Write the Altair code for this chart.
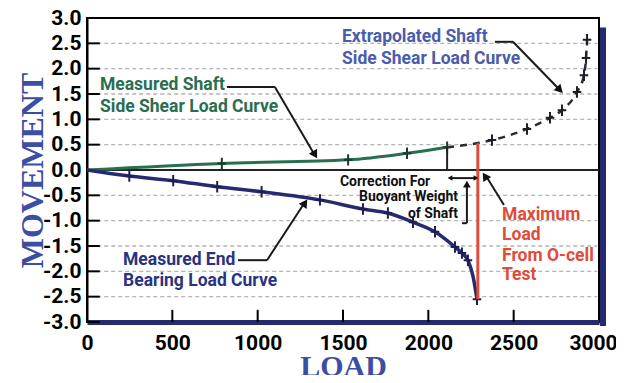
import altair as alt
import pandas as pd

# ---------------- data ----------------
shaft_load = [0, 790, 1530, 1875, 2110]
shaft_move = [0.0, 0.13, 0.20, 0.33, 0.45]
shaft_tick = [False, True, True, True, True]

end_load = [0, 248, 505, 763, 1023, 1365, 1617, 1763, 1910, 2039, 2156, 2197, 2232, 2262, 2285]
end_move = [0.0, -0.12, -0.21, -0.33, -0.43, -0.59, -0.77, -0.85, -1.03, -1.22, -1.52, -1.64, -1.78, -2.10, -2.55]
end_tick = [False, True, True, True, True, True, True, True, True, True, True, True, True, False, True]

ext_load = [2110, 2373, 2578, 2713, 2783, 2871, 2912, 2924, 2930]
ext_move = [0.45, 0.59, 0.81, 1.03, 1.18, 1.54, 1.87, 2.21, 2.57]
ext_tick = [False, True, True, True, True, True, True, True, True]

max_load = 2290
max_top, max_bottom = 0.53, -2.55
correction_load = 2110

x_ticks = [0, 500, 1000, 1500, 2000, 2500, 3000]
y_ticks = [-3.0, -2.5, -2.0, -1.5, -1.0, -0.5, 0.0, 0.5, 1.0, 1.5, 2.0, 2.5, 3.0]

# ---------------- styles ----------------
GREEN = "#2a6e50"
NAVY = "#262b70"
EXT_BLUE = "#4a5cab"
END_BLUE = "#2a3282"
RED = "#e04b3a"
TITLE_BLUE = "#3b4ea3"
SANS = "Roboto"

XS = alt.Scale(domain=[0, 3000], nice=False, zero=False)
YS = alt.Scale(domain=[-3, 3], nice=False, zero=False)

AX_X = alt.Axis(values=x_ticks, format="d", grid=False, ticks=False,
                domainColor=NAVY, domainWidth=5, labelPadding=10,
                labelFlush=False, labelOverlap=False,
                labelOffset={"condition": {"test": "datum.value == 3000", "value": -6}, "value": 0},
                titleY=53, titleBaseline="alphabetic", titleFontSize=30)
AX_Y = alt.Axis(values=y_ticks, ticks=False, grid=False,
                labelExpr="replace(format(datum.value, '.1f'), '\u2212', '-')",
                domainColor="black", domainWidth=2, labelPadding=6,
                labelOverlap=False, labelBaseline="middle",
                titleX=-45, titleY=152, titleBaseline="alphabetic", titleAlign="center")

def X(f="x"):
    return alt.X(f"{f}:Q", scale=XS, axis=AX_X, title="LOAD")

def Y(f="y"):
    return alt.Y(f"{f}:Q", scale=YS, axis=AX_Y, title="MOVEMENT")

shaft = pd.DataFrame({"x": shaft_load, "y": shaft_move, "t": shaft_tick})
end = pd.DataFrame({"x": end_load, "y": end_move, "t": end_tick})
ext = pd.DataFrame({"x": ext_load, "y": ext_move, "t": ext_tick})

PLUS = "M0,-1L0,1M-0.75,0L0.75,0"

# dashed grid lines
grid_vals = [v for v in y_ticks if v not in (-3.0, 0.0, 3.0)]
gd = pd.DataFrame({"x": [60] * len(grid_vals), "x2": [2990] * len(grid_vals), "y": grid_vals})
grid_layer = alt.Chart(gd).mark_rule(color="#b4b4b4", strokeWidth=1.4, strokeDash=[4, 3]).encode(
    x=X(), x2="x2:Q", y=Y())

xt = pd.DataFrame({"x": x_ticks[1:-1], "y": [-3.0] * 5, "y2": [-2.76] * 5})
xtick_layer = alt.Chart(xt).mark_rule(color="black", strokeWidth=2).encode(
    x=X(), y=Y(), y2="y2:Q")
yt = pd.DataFrame({"x": [0] * len(y_ticks), "x2": [75] * len(y_ticks), "y": y_ticks})
ytick_layer = alt.Chart(yt).mark_rule(color="black", strokeWidth=2).encode(
    x=X(), x2="x2:Q", y=Y())

zero = alt.Chart(pd.DataFrame({"x": [0], "x2": [3000], "y": [0]})).mark_rule(
    color="#222222", strokeWidth=2).encode(x=X(), x2="x2:Q", y=Y())

shadow = alt.Chart(pd.DataFrame({"x": [3000], "y": [2.85], "y2": [-3.0]})).mark_rule(
    color=NAVY, strokeWidth=6, xOffset=4, yOffset=2, y2Offset=4).encode(x=X(), y=Y(), y2="y2:Q")

shaft_line = alt.Chart(shaft).mark_line(color=GREEN, strokeWidth=3, interpolate="monotone").encode(x=X(), y=Y())
end_line = alt.Chart(end).mark_line(color=NAVY, strokeWidth=3.5, interpolate="monotone").encode(x=X(), y=Y())
ext_line = alt.Chart(ext).mark_line(color="#2a2a35", strokeWidth=2.5, strokeDash=[7, 6],
                                    interpolate="monotone").encode(x=X(), y=Y())

def plus_layer(df, color):
    return alt.Chart(df).transform_filter("datum.t").mark_point(
        shape=PLUS, filled=False, size=130, strokeWidth=2, color=color, opacity=1).encode(x=X(), y=Y())

shaft_plus = plus_layer(shaft, "#1f3a2c")
end_plus = plus_layer(end, "#1c1f50")
ext_plus = plus_layer(ext, "#1e1e28")

red_line = alt.Chart(pd.DataFrame({"x": [max_load], "y": [max_top], "y2": [max_bottom]})).mark_rule(
    color=RED, strokeWidth=3).encode(x=X(), y=Y(), y2="y2:Q")
corr_line = alt.Chart(pd.DataFrame({"x": [correction_load], "y": [shaft_move[-1]], "y2": [0.0]})).mark_rule(
    color="#222222", strokeWidth=2).encode(x=X(), y=Y(), y2="y2:Q")

segs = pd.DataFrame({
    "x":  [820, 1101, 2390, 2496, 885, 1055, 2443, 2127, 2226, 2197],
    "y":  [1.64, 1.64, 2.53, 2.53, -1.78, -1.78, -0.69, -0.16, -0.32, -1.05],
    "x2": [1101, 1330, 2496, 2765, 1055, 1272, 2340, 2279, 2226, 2226],
    "y2": [1.64, 0.32, 2.53, 1.60, -1.78, -0.66, -0.13, -0.16, -1.05, -1.05],
})
seg_layer = alt.Chart(segs).mark_rule(color="#1a1a1a", strokeWidth=2).encode(
    x=X(), y=Y(), x2="x2:Q", y2="y2:Q")
heads = pd.DataFrame({
    "x": [1336, 2771, 1277, 2332, 2127, 2279, 2226],
    "y": [0.30, 1.58, -0.65, -0.12, -0.16, -0.16, -0.28],
    "a": [149.5, 135.6, 33.7, 326.8, 270, 90, 0],
    "s": [90, 90, 90, 90, 30, 30, 60],
})
head_layer = alt.Chart(heads).mark_point(shape="triangle-up", filled=True, color="#111111", opacity=1).encode(
    x=X(), y=Y(), angle=alt.Angle("a:Q", scale=None), size=alt.Size("s:Q", scale=None))

def text_layer(xs, ys, texts, color, size, align="left"):
    df = pd.DataFrame({"x": xs, "y": ys, "label": texts})
    return alt.Chart(df).mark_text(font=SANS, fontWeight="bold", fontSize=size, color=color,
                                   align=align, baseline="middle").encode(x=X(), y=Y(), text="label:N")

t_green = text_layer([76, 76], [1.68, 1.25], ["Measured Shaft", "Side Shear Load Curve"], GREEN, 17.5)
t_ext = text_layer([1494, 1494], [2.62, 2.19], ["Extrapolated Shaft", "Side Shear Load Curve"], EXT_BLUE, 17.5)
t_end = text_layer([211, 211], [-1.78, -2.19], ["Measured End", "Bearing Load Curve"], END_BLUE, 17.5)
t_max = text_layer([2432] * 4, [-0.89, -1.28, -1.70, -2.07], ["Maximum", "Load", "From O-cell", "Test"], RED, 17.5)
t_corr1 = text_layer([1482], [-0.24], ["Correction For"], "#111111", 14)
t_corr2 = text_layer([2174, 2174], [-0.53, -0.87], ["Buoyant Weight", "of Shaft"], "#111111", 14, align="right")

chart = alt.layer(
    grid_layer, zero, xtick_layer, ytick_layer, shadow,
    shaft_line, end_line, ext_line, shaft_plus, end_plus, ext_plus,
    corr_line, red_line, seg_layer, head_layer,
    t_green, t_ext, t_end, t_max, t_corr1, t_corr2,
).properties(
    width=512, height=304,
    autosize=alt.AutoSizeParams(type="none"),
    padding={"left": 79, "top": 10, "right": 17, "bottom": 53},
).configure_view(
    stroke="black", strokeWidth=2
).configure_axis(
    labelFont=SANS, labelFontSize=21, labelFontWeight="bold", labelColor="black",
    titleFont="Liberation Serif", titleFontSize=32, titleFontWeight="bold", titleColor=TITLE_BLUE,
)

chart.save("out.html", embed_options={"renderer": "svg", "actions": False})
